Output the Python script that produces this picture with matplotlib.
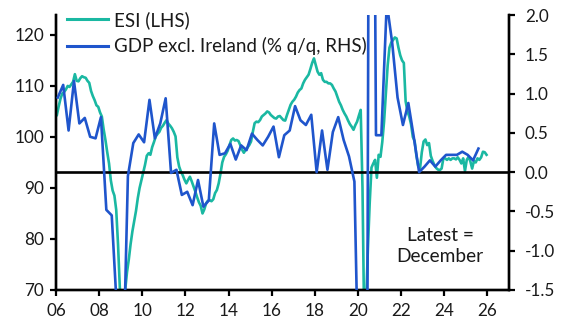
import numpy as np
import matplotlib
matplotlib.use("Agg")
import matplotlib.pyplot as plt
from matplotlib.lines import Line2D

plt.rcParams['font.family'] = ['Lato', 'DejaVu Sans']
plt.rcParams['axes.unicode_minus'] = False

# ---- Data -------------------------------------------------------------
# Euro-zone Economic Sentiment Indicator (monthly, Jan-2006 .. Dec-2025)
esi_2006_2009 = [104.3, 106.0, 107.5, 108.5, 108.8, 109.3, 110.0, 109.8, 110.3, 110.8, 112.3, 111.0,
                 110.9, 111.5, 111.9, 111.7, 111.6, 111.0, 110.6, 109.0, 108.0, 107.2, 106.2, 105.9,
                 104.8, 104.0, 101.5, 99.4, 97.0, 94.8, 91.5, 89.5, 88.5, 85.7, 79.0, 70.5,
                 66.0, 64.5, 70.0, 73.5, 76.0, 79.0, 81.5, 83.5, 85.5, 88.0, 90.0, 91.5]
esi_2010_2013 = [93.0, 94.5, 96.3, 96.8, 96.5, 98.0, 99.0, 100.1, 100.6, 101.0, 101.8, 102.2,
                 102.8, 103.3, 102.6, 102.2, 101.7, 101.0, 100.1, 96.0, 94.2, 93.2, 92.5, 91.6,
                 90.9, 91.6, 92.2, 91.3, 90.3, 89.3, 88.2, 87.2, 86.5, 85.0, 85.8, 87.0,
                 87.5, 87.6, 87.4, 87.8, 89.0, 89.6, 90.9, 92.8, 95.0, 96.1, 96.6, 97.3]
esi_2014_2017 = [98.4, 99.4, 99.7, 99.3, 99.4, 99.2, 98.4, 97.5, 96.9, 97.5, 97.9, 98.4,
                 99.1, 101.0, 102.7, 103.0, 102.9, 103.3, 104.0, 104.3, 104.6, 105.0, 104.8, 104.3,
                 104.0, 103.7, 103.6, 104.0, 104.1, 103.7, 103.3, 103.2, 104.3, 105.3, 106.3, 106.9,
                 107.3, 107.9, 108.7, 109.2, 109.5, 110.5, 111.2, 111.7, 112.2, 113.3, 114.5, 115.4]
esi_2018_2021 = [114.1, 112.8, 112.2, 112.5, 111.2, 110.8, 110.8, 110.5, 110.5, 110.2, 109.5, 108.9,
                 107.9, 106.9, 106.2, 105.3, 104.6, 104.0, 103.2, 102.5, 102.0, 101.4, 102.3, 103.0,
                 104.2, 105.3, 90.0, 62.0, 67.5, 78.0, 87.0, 94.0, 94.8, 95.5, 92.0, 96.5,
                 96.1, 99.0, 103.0, 108.5, 114.0, 117.5, 118.5, 119.0, 119.5, 119.3, 117.5, 116.0]
esi_2022_2025 = [115.0, 114.5, 107.0, 105.0, 104.0, 102.5, 100.0, 99.2, 96.3, 94.3, 93.8, 97.0,
                 99.1, 99.5, 98.4, 98.8, 96.3, 95.3, 94.5, 93.9, 93.6, 93.5, 93.8, 95.8,
                 95.8, 95.5, 95.8, 95.5, 95.8, 95.8, 95.6, 96.0, 95.5, 94.8, 95.8, 93.3,
                 95.5, 96.1, 95.2, 93.8, 95.3, 95.0, 95.8, 95.5, 96.0, 97.1, 97.0, 96.5]
esi_start_year = 2006

# GDP excl. Ireland, % q/q (quarterly, 2006Q1 .. 2025Q3)
gdp_2006_2010 = [0.95, 1.11, 0.53, 1.16,
                 0.62, 0.69, 0.45, 0.43,
                 0.70, -0.48, -0.55, -1.80,
                 -2.90, -0.05, 0.37, 0.48,
                 0.38, 0.92, 0.43, 0.62]
gdp_2011_2015 = [0.94, -0.01, 0.03, -0.29,
                 -0.25, -0.42, -0.10, -0.44,
                 -0.36, 0.62, 0.22, 0.24,
                 0.36, 0.16, 0.34, 0.28,
                 0.49, 0.41, 0.34, 0.45]
gdp_2016_2020 = [0.58, 0.19, 0.47, 0.53,
                 0.84, 0.66, 0.60, 0.73,
                 0.00, 0.53, 0.03, 0.51,
                 0.70, 0.41, 0.20, -0.12,
                 -3.50, -11.50, 12.00, 0.47]
gdp_2021_2025 = [0.47, 2.15, 1.65, 0.95,
                 0.60, 0.88, 0.45, 0.00,
                 0.07, 0.15, 0.07, 0.15,
                 0.22, 0.22, 0.22, 0.26,
                 0.22, 0.15, 0.30]
gdp_start_year = 2006

x_ticks = list(range(2006, 2027, 2))
x_labels = ['06', '08', '10', '12', '14', '16', '18', '20', '22', '24', '26']
left_ticks = [70, 80, 90, 100, 110, 120]
right_ticks = [-1.5, -1.0, -0.5, 0.0, 0.5, 1.0, 1.5, 2.0]

esi_label = 'ESI (LHS)'
gdp_label = 'GDP excl. Ireland (% q/q, RHS)'
note_text = 'Latest =\nDecember'

# ---- Build series ----------------------------------------------------------
esi = np.array(esi_2006_2009 + esi_2010_2013 + esi_2014_2017 + esi_2018_2021 + esi_2022_2025)
gdp = np.array(gdp_2006_2010 + gdp_2011_2015 + gdp_2016_2020 + gdp_2021_2025)
esi_x = esi_start_year + (np.arange(len(esi)) + 0.5) / 12.0
gdp_x = gdp_start_year + (np.arange(len(gdp)) + 1.0 / 3.0) / 4.0

TEAL = '#1AB8A2'
BLUE = '#1F55CC'
TXT = '#1a1a1a'

W, H = 566, 329
fig = plt.figure(figsize=(W / 100, H / 100), dpi=100)
ax = fig.add_axes([56 / W, 39 / H, 453 / W, 275 / H])
ax2 = ax.twinx()

ax.plot(esi_x, esi, color=TEAL, lw=1.9, zorder=2)
ax2.axhline(0, color='black', lw=1.9, zorder=1)
ax2.plot(gdp_x, gdp, color=BLUE, lw=1.9, zorder=3)

ax.set_xlim(2006, 2027)
ax.set_ylim(70, 123.9)
ax2.set_ylim(-1.5, 2.0)

ax.set_xticks(x_ticks)
ax.set_xticklabels(x_labels)
ax.set_yticks(left_ticks)
ax.set_yticklabels([f'{v:d}' for v in left_ticks])
ax2.set_yticks(right_ticks)
ax2.set_yticklabels([f'{v:.1f}' for v in right_ticks])

for a in (ax, ax2):
    a.spines['top'].set_visible(False)
    for s in ('left', 'right', 'bottom'):
        a.spines[s].set_linewidth(1.7)
        a.spines[s].set_color('black')
    a.tick_params(direction='out', length=4.5, width=1.6, colors='black',
                  labelsize=12.3, labelcolor=TXT, pad=4)
ax.tick_params(axis='y', which='both', right=False)
ax2.tick_params(axis='y', which='both', left=False, pad=7)
ax.tick_params(axis='x', pad=5)

handles = [Line2D([], [], color=TEAL, lw=2.2), Line2D([], [], color=BLUE, lw=2.2)]
leg = ax2.legend(handles, [esi_label, gdp_label], loc='upper left',
                 bbox_to_anchor=(0.0, 1.055), frameon=False, fontsize=13.5,
                 handlelength=2.15, handletextpad=0.32, labelspacing=0.44,
                 borderaxespad=0.2)
for t in leg.get_texts():
    t.set_color(TXT)

ax2.text(0.848, 0.16, note_text, transform=ax2.transAxes, ha='center', va='center',
         fontsize=13.8, color=TXT, linespacing=1.3)

fig.savefig('out.png', dpi=100)
